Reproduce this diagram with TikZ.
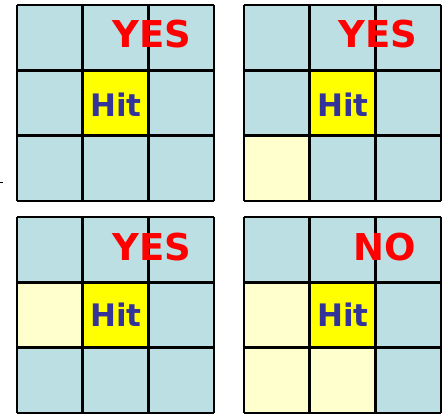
\documentclass[tikz,border=0pt]{standalone}
\usepackage{fontspec}
\setmainfont{DejaVu Sans}
\definecolor{cellblue}{HTML}{BBDFE2}
\definecolor{hityellow}{HTML}{FFFF00}
\definecolor{paleyellow}{HTML}{FFFFCE}
\definecolor{hitblue}{HTML}{333399}
\definecolor{ansred}{HTML}{FF0000}
\tikzset{
  gridline/.style={draw=black, line width=2.4pt},
  answer/.style={text=ansred, font=\fontsize{37}{37}\selectfont\bfseries, inner sep=0pt, text height=27pt, text depth=0pt},
  hitlabel/.style={text=hitblue, font=\fontsize{31}{31}\selectfont\bfseries, inner sep=0pt, text height=22.5pt, text depth=0pt},
}
% #1,#2: origin; #3: list of pale cells (col/row)
\newcommand{\mygrid}[3]{%
  \fill[cellblue] (#1,#2) rectangle ++(197,196);
  \foreach \c/\r in {#3} {\fill[paleyellow] (#1+\c*65.67,#2+\r*65.33) rectangle ++(65.67,65.33);}
  \fill[hityellow] (#1+65.67,#2+65.33) rectangle ++(65.67,65.33);
  \foreach \k in {0,1,2,3} {
    \draw[gridline] (#1+\k*65.67,#2) -- (#1+\k*65.67,#2+196);
    \draw[gridline] (#1,#2+\k*65.33) -- (#1+197,#2+\k*65.33);
  }
}
\begin{document}
\begin{tikzpicture}[x=1pt,y=-1pt]
\useasboundingbox (0,0) rectangle (444,413);
\mygrid{17}{5}{}
\mygrid{244}{5}{0/2}
\mygrid{17}{217}{0/1}
\mygrid{244}{217}{0/1,0/2,1/2}
\node[answer] (yes1) at (152,34) {YES};
\node[hitlabel] (hit1) at (116,105) {Hit};
\node[answer] (yes2) at (378,34) {YES};
\node[hitlabel] (hit2) at (343,105) {Hit};
\node[answer] (yes3) at (152,246.5) {YES};
\node[hitlabel] (hit3) at (116,315.5) {Hit};
\node[answer] (no4) at (385,246.5) {NO};
\node[hitlabel] (hit4) at (343,315.5) {Hit};
\draw[line width=0.6pt] (0,182.5) -- (2.5,182.5);
\end{tikzpicture}
\end{document}
